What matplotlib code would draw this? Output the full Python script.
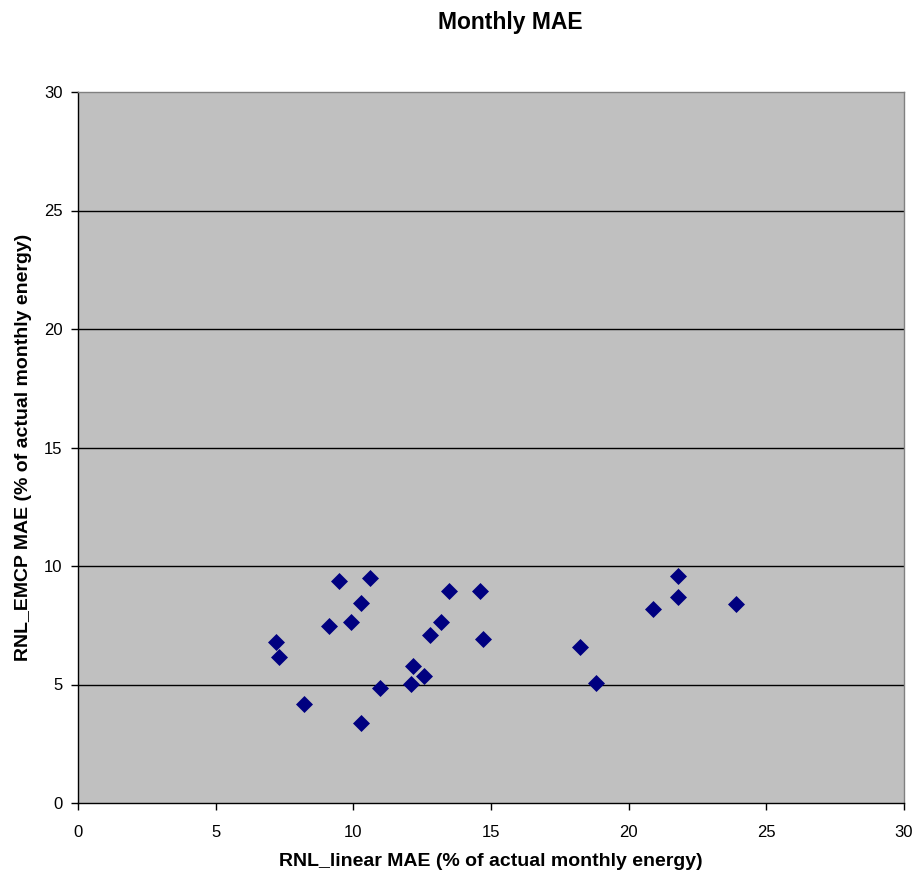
import matplotlib
matplotlib.use("Agg")
import matplotlib.pyplot as plt

plt.rcParams['font.family'] = ['Liberation Sans', 'DejaVu Sans']

linear_mae = [7.19, 7.30, 8.21, 9.11, 9.47, 9.90, 10.28, 10.28, 10.61, 10.97,
              12.08, 12.18, 12.56, 12.79, 13.20, 13.48, 14.60, 14.70,
              18.22, 18.80, 20.88, 21.78, 21.78, 23.90]
emcp_mae = [6.78, 6.17, 4.19, 7.47, 9.38, 7.65, 8.45, 3.38, 9.51, 4.86,
            5.04, 5.80, 5.36, 7.09, 7.65, 8.95, 8.95, 6.90,
            6.60, 5.08, 8.20, 9.58, 8.70, 8.40]
ticks = [0, 5, 10, 15, 20, 25, 30]

fig = plt.figure(figsize=(9.13, 8.77), dpi=100)
ax = fig.add_axes([78/913, 1-803/877, (904-78)/913, (803-92)/877])
ax.set_facecolor('#C0C0C0')
ax.set_xlim(0, 30)
ax.set_ylim(0, 30)
ax.set_xticks(ticks)
ax.set_yticks(ticks)
ax.set_xticklabels([str(t) for t in ticks])
ax.set_yticklabels([str(t) for t in ticks])
for t in ticks[1:-1]:
    ax.axhline(t, color='black', lw=1.0, zorder=1)
ax.scatter(linear_mae, emcp_mae, marker='D', s=75, color='#000080', zorder=3,
           linewidths=0)
for s in ['top', 'right']:
    ax.spines[s].set_color('#808080')
    ax.spines[s].set_linewidth(1.0)
for s in ['left', 'bottom']:
    ax.spines[s].set_color('black')
    ax.spines[s].set_linewidth(1.0)
ax.tick_params(direction='out', length=5, width=1, labelsize=12, colors='black')
ax.tick_params(axis='x', pad=11)
ax.tick_params(axis='y', pad=6)
ax.set_xlabel('RNL_linear MAE (% of actual monthly energy)', fontsize=14,
              fontweight='bold', labelpad=9)
ax.set_ylabel('RNL_EMCP MAE (% of actual monthly energy)', fontsize=14,
              fontweight='bold', labelpad=9)
fig.text(510/913, 1-22/877, 'Monthly MAE', ha='center', va='center',
         fontsize=16.5, fontweight='bold')
fig.savefig('out.png', dpi=100, facecolor='white')
